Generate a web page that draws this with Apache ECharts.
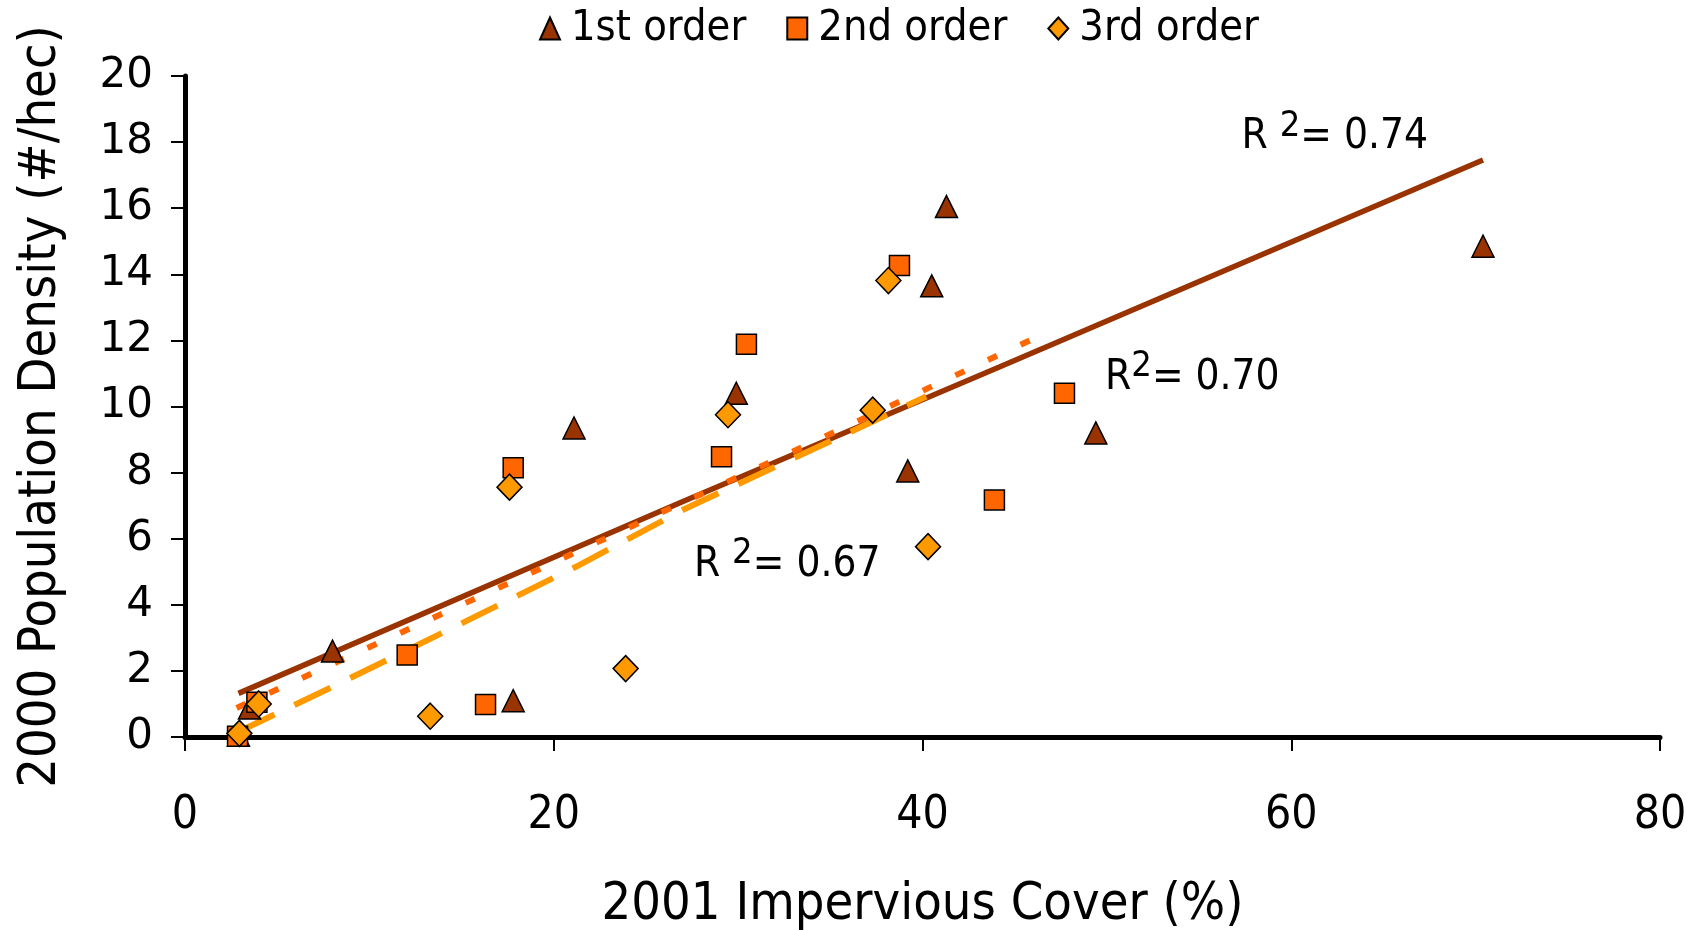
<!DOCTYPE html>
<html>
<head>
<meta charset="utf-8">
<script src="https://cdn.jsdelivr.net/npm/echarts@6/dist/echarts.min.js"></script>
<style>
html,body{margin:0;padding:0;background:#fff;}
#c{width:1698px;height:930px;}
</style>
</head>
<body>
<div id="c"></div>
<script>
// ---- data ----
const seriesNames = ['1st order', '2nd order', '3rd order'];
const order1 = [[2.9,0.05],[3.5,0.88],[8.0,2.6],[17.8,1.1],[21.1,9.35],[29.9,10.4],[39.2,8.05],[40.5,13.65],[41.3,16.05],[49.4,9.2],[70.4,14.85]];
const order2 = [[2.85,0.02],[3.9,1.05],[12.05,2.48],[16.3,0.98],[17.8,8.15],[29.1,8.48],[30.45,11.88],[38.75,14.27],[43.9,7.17],[47.7,10.4]];
const order3 = [[2.95,0.11],[4.0,1.0],[13.3,0.63],[23.9,2.07],[17.6,7.56],[29.45,9.75],[37.3,9.89],[38.15,13.81],[40.3,5.76]];
const trend1 = [[2.9,1.32],[27.1,7.15],[44.2,11.2],[70.4,17.46]];
const trend2 = [[2.8,0.88],[19.3,5.1],[33.6,8.8],[46.4,12.15]];
const trend3 = [[2.9,0.16],[8.0,1.52],[14.65,3.34],[21.2,5.15],[27.1,6.9],[40.2,10.3]];
const r2Labels = [
  {pos:[57.3,18.15], r:'R ', v:'= 0.74'},
  {pos:[49.9,10.86], r:'R', v:'= 0.70'},
  {pos:[27.6,5.2], r:'R ', v:'= 0.67'}
];
const xTicks = {min:0, max:80, interval:20};
const yTicks = {min:0, max:20, interval:2};

const NARROW = "'Liberation Sans Narrow', 'DejaVu Sans Condensed', sans-serif";
const WIDE = "'DejaVu Sans', Verdana, sans-serif";
const C1 = '#993300', C2 = '#FF6600', C3 = '#FF9900';

const chart = echarts.init(document.getElementById('c'), null, {renderer:'canvas'});
const markerBorder = {borderColor:'#000', borderWidth:1.5, opacity:1};

chart.setOption({
  animation:false,
  backgroundColor:'#fff',
  grid:{left:185, right:38, top:76, bottom:193, containLabel:false, outerBoundsMode:'none'},
  legend:{
    data:seriesNames,
    left:534, top:2,
    itemWidth:20, itemHeight:22, itemGap:40,
    itemStyle:{opacity:1},
    textStyle:{fontFamily:NARROW, fontSize:43, color:'#000', padding:[0,0,0,6]}
  },
  xAxis:{
    type:'value', min:xTicks.min, max:xTicks.max, interval:xTicks.interval,
    name:'2001 Impervious Cover (%)', nameLocation:'middle', nameGap:142,
    nameTextStyle:{fontFamily:NARROW, fontSize:52, color:'#000'},
    axisLine:{show:true, lineStyle:{color:'#000', width:5}},
    axisTick:{show:true, inside:false, length:14, lineStyle:{color:'#000', width:2}},
    axisLabel:{fontFamily:NARROW, fontSize:46, color:'#000', margin:56},
    splitLine:{show:false}
  },
  yAxis:{
    type:'value', min:yTicks.min, max:yTicks.max, interval:yTicks.interval,
    name:'2000 Population Density (#/hec)', nameLocation:'middle', nameGap:118, nameRotate:90,
    nameTextStyle:{fontFamily:NARROW, fontSize:52, color:'#000'},
    axisLine:{show:true, lineStyle:{color:'#000', width:5}},
    axisTick:{show:true, inside:false, length:14, lineStyle:{color:'#000', width:2}},
    axisLabel:{fontFamily:WIDE, fontSize:42, color:'#000', margin:32},
    splitLine:{show:false}
  },
  series:[
    {name:'trend1', type:'line', data:trend1, showSymbol:false, symbol:'none', z:2,
      lineStyle:{color:C1, width:5.5, type:'solid', opacity:1}},
    {name:'trend2', type:'line', data:trend2, showSymbol:false, symbol:'none', z:2,
      lineStyle:{color:C2, width:6, type:[10,26], opacity:1}},
    {name:'trend3', type:'line', data:trend3, showSymbol:false, symbol:'none', z:2,
      lineStyle:{color:C3, width:6, type:[40,22], opacity:1}},
    {name:seriesNames[0], type:'scatter', data:order1, symbol:'triangle', symbolSize:[22,22], z:3,
      itemStyle:Object.assign({color:C1}, markerBorder)},
    {name:seriesNames[1], type:'scatter', data:order2, symbol:'rect', symbolSize:[20,20], z:4,
      itemStyle:Object.assign({color:C2}, markerBorder)},
    {name:seriesNames[2], type:'scatter', data:order3, symbol:'diamond', symbolSize:[25,26], z:5,
      itemStyle:Object.assign({color:C3}, markerBorder)},
    {name:'r2', type:'scatter', symbolSize:0, z:6, silent:true,
      itemStyle:{opacity:1},
      data:r2Labels.map(d=>({value:d.pos, lab:d})),
      label:{show:true, position:'right', distance:0, color:'#000', opacity:1,
        formatter:function(p){const d=p.data.lab; return '{a|'+d.r+'}{s|2}{a|'+d.v+'}';},
        rich:{
          a:{fontFamily:NARROW, fontSize:42, color:'#000', lineHeight:52},
          s:{fontFamily:NARROW, fontSize:36, color:'#000', lineHeight:52, padding:[0,0,22,0]}
        }
      }}
  ]
});
</script>
</body>
</html>
